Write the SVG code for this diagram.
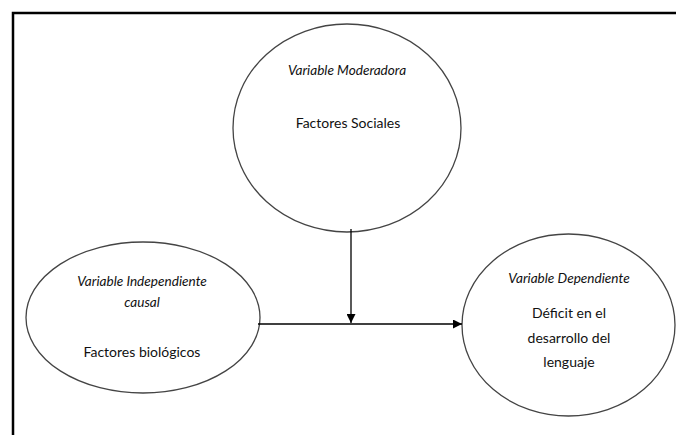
<svg xmlns="http://www.w3.org/2000/svg" width="676" height="435" viewBox="0 0 676 435">
<defs>
<style>
.node{fill:#fff;stroke:#444;stroke-width:1.3}
.t{font-family:Lato,"Open Sans","Liberation Sans",sans-serif;font-size:14px;fill:#111;text-anchor:middle}
.i{font-style:italic;font-size:13.6px}
.c{stroke:#000;stroke-width:1.3;fill:none}
</style>
<marker id="ah" viewBox="0 0 10 10" refX="10" refY="5" markerWidth="9" markerHeight="9" markerUnits="userSpaceOnUse" orient="auto">
<path d="M0,0 L10,5 L0,10 z" fill="#000"/>
</marker>
</defs>
<rect width="676" height="435" fill="#fff"/>
<rect x="13" y="13" width="700" height="500" fill="none" stroke="#000" stroke-width="2.5"/>
<g id="moderadora">
<ellipse class="node" cx="347" cy="128" rx="114" ry="104"/>
<text class="t i" x="347" y="75">Variable Moderadora</text>
<text class="t" x="348" y="128">Factores Sociales</text>
</g>
<g id="independiente">
<ellipse class="node" cx="143" cy="317.5" rx="117" ry="75.5"/>
<text class="t i" x="142" y="286">Variable Independiente</text>
<text class="t i" x="142" y="307">causal</text>
<text class="t" x="142" y="357">Factores biológicos</text>
</g>
<g id="dependiente">
<ellipse class="node" cx="568.5" cy="325" rx="106.5" ry="91"/>
<text class="t i" x="569" y="283">Variable Dependiente</text>
<text class="t" x="569" y="318">Déficit en el</text>
<text class="t" x="569" y="343">desarrollo del</text>
<text class="t" x="569" y="367">lenguaje</text>
</g>
<g id="connectors">
<line class="c" x1="258" y1="324" x2="462" y2="324" marker-end="url(#ah)"/>
<line class="c" x1="351" y1="229" x2="351" y2="323" marker-end="url(#ah)"/>
</g>
</svg>
